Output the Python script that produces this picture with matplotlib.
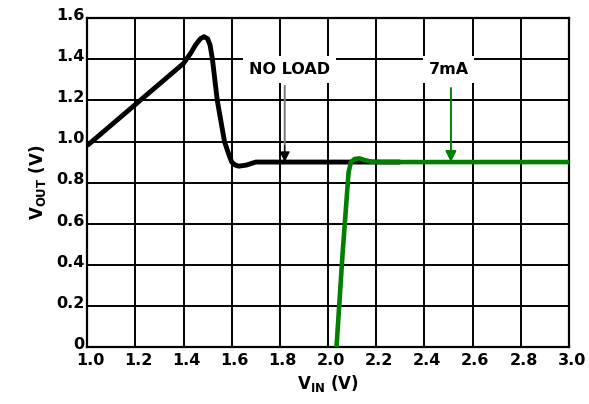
import matplotlib.pyplot as plt
import matplotlib.transforms as mtransforms
import numpy as np

plt.rcParams['font.family'] = 'DejaVu Sans'
plt.rcParams['font.weight'] = 'bold'
plt.rcParams['mathtext.fontset'] = 'dejavusans'

# no load curve
vin_noload = [1.0, 1.1, 1.2, 1.3, 1.4, 1.43, 1.45, 1.47, 1.485, 1.50, 1.51, 1.52, 1.54, 1.57,
              1.59, 1.60, 1.615, 1.63, 1.66, 1.7, 1.8, 1.9, 2.0, 2.1, 2.2, 2.3]
vout_noload = [0.98, 1.08, 1.18, 1.28, 1.38, 1.43, 1.47, 1.50, 1.51, 1.50, 1.47, 1.40, 1.20, 1.00,
               0.93, 0.90, 0.885, 0.88, 0.885, 0.9, 0.9, 0.9, 0.9, 0.9, 0.9, 0.9]

# 7mA curve
vin_7ma = [2.035, 2.06, 2.085, 2.095, 2.11, 2.13, 2.15, 2.18, 2.22, 2.3, 2.5, 3.0]
vout_7ma = [0.0, 0.45, 0.85, 0.9, 0.915, 0.918, 0.91, 0.902, 0.9, 0.9, 0.9, 0.9]

xticks = [1.0, 1.2, 1.4, 1.6, 1.8, 2.0, 2.2, 2.4, 2.6, 2.8, 3.0]
yticks = [0, 0.2, 0.4, 0.6, 0.8, 1.0, 1.2, 1.4, 1.6]
ytick_labels = ['0', '0.2', '0.4', '0.6', '0.8', '1.0', '1.2', '1.4', '1.6']

fig = plt.figure(figsize=(5.89, 4.04), dpi=100)
ax = fig.add_axes([0.148, 0.141, 0.818, 0.814])

ax.plot(vin_noload, vout_noload, color='black', lw=3.5, solid_capstyle='butt',
        solid_joinstyle='round', zorder=3)
ax.plot(vin_7ma, vout_7ma, color='#008000', lw=3.3, solid_capstyle='butt',
        solid_joinstyle='round', zorder=4)

ax.set_xlim(1.0, 3.0)
ax.set_ylim(0, 1.6)
ax.set_xticks(xticks)
ax.set_xticklabels([f"{t:.1f}" for t in xticks])
ax.set_yticks(yticks)
ax.set_yticklabels(ytick_labels)
ax.tick_params(length=0, labelsize=11.5, pad=2)
ax.tick_params(axis='x', pad=4)
ax.grid(True, color='black', lw=1.4)
ax.set_axisbelow(True)
for s in ax.spines.values():
    s.set_linewidth(1.6)

# y labels sit slightly above their grid lines, x labels slightly right
up = mtransforms.ScaledTranslation(0, 3 / 72, fig.dpi_scale_trans)
for lab in ax.get_yticklabels():
    lab.set_transform(lab.get_transform() + up)
right = mtransforms.ScaledTranslation(2 / 72, 0, fig.dpi_scale_trans)
for lab in ax.get_xticklabels():
    lab.set_transform(lab.get_transform() + right)

ax.set_xlabel(r'$\mathbf{V_{IN}}$ (V)', fontsize=12, fontweight='bold', labelpad=4)
ax.set_ylabel(r'$\mathbf{V_{OUT}}$ (V)', fontsize=12, fontweight='bold', labelpad=6)

# annotations
box = dict(boxstyle='square,pad=0.35', fc='white', ec='none')
ax.text(1.84, 1.35, 'NO LOAD', ha='center', va='center', fontsize=11.5,
        fontweight='bold', bbox=box, zorder=5)
ax.annotate('', xy=(1.82, 0.93), xytext=(1.82, 1.27),
            arrowprops=dict(arrowstyle='-', color='#777777', lw=1.4,
                            shrinkA=0, shrinkB=0), zorder=5)
ax.annotate('', xy=(1.82, 0.9), xytext=(1.82, 0.98),
            arrowprops=dict(arrowstyle='-|>', color='black', lw=0.8, mutation_scale=16,
                            shrinkA=0, shrinkB=0), zorder=5)
ax.text(2.50, 1.35, '7mA', ha='center', va='center', fontsize=11.5,
        fontweight='bold', bbox=box, zorder=5)
ax.annotate('', xy=(2.51, 0.9), xytext=(2.51, 1.26),
            arrowprops=dict(arrowstyle='-|>', color='#008000', lw=1.4, mutation_scale=16,
                            shrinkA=0, shrinkB=0), zorder=5)

fig.savefig('out.png', dpi=100)
